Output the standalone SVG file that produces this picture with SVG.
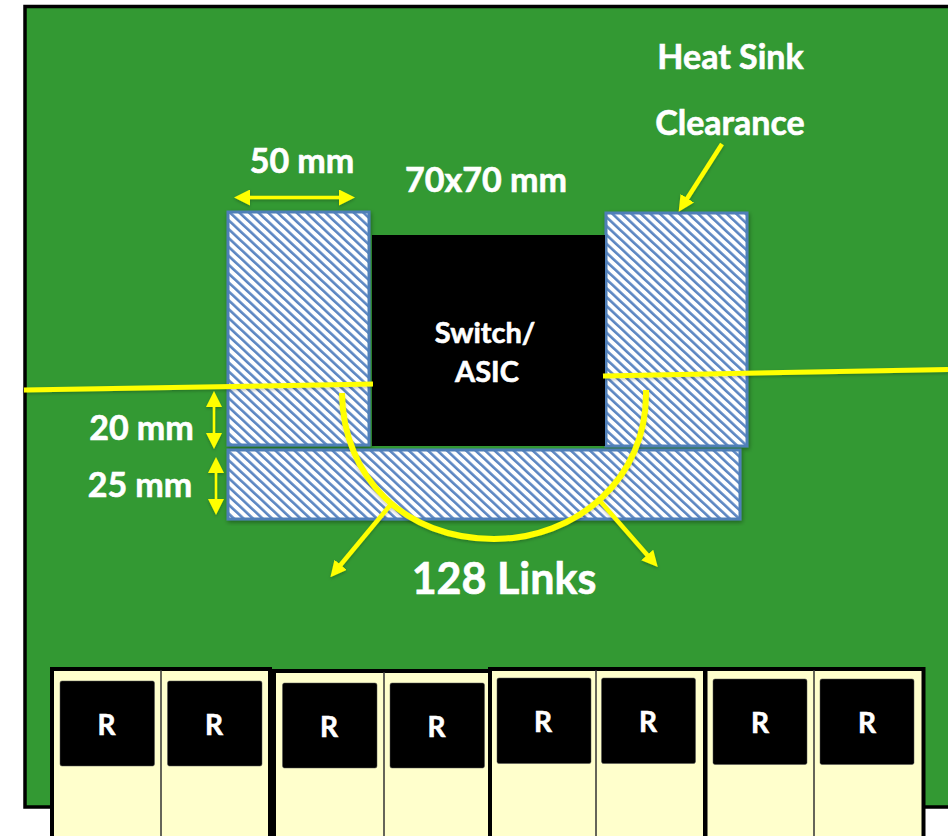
<svg xmlns="http://www.w3.org/2000/svg" width="948" height="836" viewBox="0 0 948 836">
<style>
.t{font-family:"Lato","Liberation Sans",sans-serif;font-weight:700;fill:#fff;stroke:#fff;stroke-width:.6;text-anchor:middle}
.hatch{fill:url(#h);stroke:#4f7fb8;stroke-width:3;filter:url(#s)}
.y{stroke:#ff0;fill:none}
.mod{fill:#ffc;stroke:#000;stroke-width:4}
.div{stroke:#333;stroke-width:1.500}
.chip{fill:#000;stroke:#555;stroke-width:.5}
</style>
<defs>
<pattern id="h" width="6.500" height="6.500" patternUnits="userSpaceOnUse" patternTransform="rotate(-47)">
<rect width="6.500" height="6.500" fill="#fff"/><rect width="2.600" height="6.500" fill="#5b86c2"/>
</pattern>
<filter id="s" x="-5%" y="-5%" width="112%" height="115%"><feDropShadow dx="1" dy="2" stdDeviation="2" flood-color="#000" flood-opacity=".35"/></filter>
<filter id="ls" x="-10%" y="-10%" width="120%" height="120%"><feDropShadow dx="0" dy="1.500" stdDeviation="1.500" flood-color="#000" flood-opacity=".25"/></filter>
<marker id="a" viewBox="0 0 10 10" refX="5" refY="5" markerWidth="16" markerHeight="16" markerUnits="userSpaceOnUse" orient="auto-start-reverse"><path d="M0 0L10 5L0 10z" fill="#ff0"/></marker>
</defs>
<rect width="948" height="836" fill="#fff"/>
<g id="board"><path d="M950 6.500H25V807H950" fill="#393" stroke="#000" stroke-width="3.500"/></g>
<g id="clearance-left"><rect class="hatch" x="228" y="212" width="141" height="233"/></g>
<g id="clearance-right"><rect class="hatch" x="606" y="213" width="141" height="233"/></g>
<g id="clearance-bottom"><rect class="hatch" x="228" y="450" width="512" height="69"/></g>
<g id="asic"><rect x="372" y="235" width="233" height="211" fill="#000"/>
<text class="t" x="485" y="343" font-size="29">Switch/</text><text class="t" x="487" y="382" font-size="29">ASIC</text></g>
<g id="connectors" filter="url(#ls)">
<path class="y" stroke-width="5" d="M24 390L373 384"/>
<path class="y" stroke-width="5" d="M603 376L948 369.500"/>
<path class="y" stroke-width="6" d="M342 393C343 478 405 539 494 539C575 539 648 480 646 390"/>
<path class="y" stroke-width="3.500" marker-start="url(#a)" marker-end="url(#a)" d="M242 197.500H347"/>
<path class="y" stroke-width="2.500" marker-start="url(#a)" marker-end="url(#a)" d="M214 399V441"/>
<path class="y" stroke-width="2.500" marker-start="url(#a)" marker-end="url(#a)" d="M216 465V507"/>
<path class="y" stroke-width="4.500" marker-end="url(#a)" d="M392 503L335.500 571"/>
<path class="y" stroke-width="4.500" marker-end="url(#a)" d="M600 501L652.500 561"/>
<path class="y" stroke-width="4.500" marker-end="url(#a)" d="M722 144L683 205"/>
</g>
<g id="labels">
<text class="t" x="730.500" y="68.500" font-size="34">Heat Sink</text>
<text class="t" x="730" y="134.500" font-size="34">Clearance</text>
<text class="t" x="302" y="172.500" font-size="34">50 mm</text>
<text class="t" x="486" y="192" font-size="34">70x70 mm</text>
<text class="t" x="141.500" y="439.500" font-size="34">20 mm</text>
<text class="t" x="140" y="496.500" font-size="34">25 mm</text>
<text class="t" x="504" y="594" font-size="43">128 Links</text>
</g>
<g id="module-1"><rect class="mod" x="52" y="669" width="218" height="170"/><path class="div" d="M161 670V836"/>
<rect class="chip" x="60" y="681" width="94.500" height="85" rx="2"/><text class="t" x="106.500" y="735" font-size="28">R</text>
<rect class="chip" x="167.500" y="681" width="94.500" height="85" rx="2"/><text class="t" x="214" y="735" font-size="28">R</text></g>
<g id="module-2"><rect class="mod" x="274" y="671" width="219" height="170"/><path class="div" d="M384 672V836"/>
<rect class="chip" x="282.500" y="683" width="94.500" height="85" rx="2"/><text class="t" x="329" y="737" font-size="28">R</text>
<rect class="chip" x="390" y="683" width="94.500" height="85" rx="2"/><text class="t" x="436.500" y="737" font-size="28">R</text></g>
<g id="module-3"><rect class="mod" x="490" y="669" width="215" height="170"/><path class="div" d="M596 670V836"/>
<rect class="chip" x="497" y="678" width="94" height="85.500" rx="2"/><text class="t" x="543" y="732" font-size="28">R</text>
<rect class="chip" x="601.500" y="678" width="94" height="85.500" rx="2"/><text class="t" x="648" y="732" font-size="28">R</text></g>
<g id="module-4"><rect class="mod" x="705.500" y="669" width="218" height="170"/><path class="div" d="M814 670V836"/>
<rect class="chip" x="713" y="679" width="94" height="85.500" rx="2"/><text class="t" x="760" y="733" font-size="28">R</text>
<rect class="chip" x="820" y="679" width="94" height="85.500" rx="2"/><text class="t" x="867" y="733" font-size="28">R</text></g>
</svg>
